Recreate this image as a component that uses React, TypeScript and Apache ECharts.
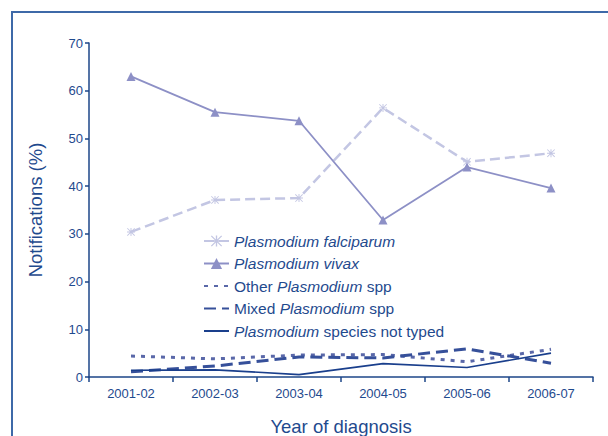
import React, { useEffect, useRef } from "react";
import * as echarts from "echarts";

const categories = ["2001-02", "2002-03", "2003-04", "2004-05", "2005-06", "2006-07"];
const falciparum = [30.4, 37.1, 37.5, 56.4, 45.1, 46.9];
const vivax = [63.0, 55.5, 53.7, 32.9, 44.0, 39.6];
const otherSpp = [4.4, 3.8, 4.6, 4.7, 3.2, 5.8];
const mixedSpp = [1.1, 2.3, 4.2, 4.0, 5.9, 2.9];
const notTyped = [1.4, 1.5, 0.5, 2.8, 2.0, 5.0];
const yTicks = { min: 0, max: 70, interval: 10 };

const legendLabels: Record<string, string> = {
  "Plasmodium falciparum": "{i|Plasmodium falciparum}",
  "Plasmodium vivax": "{i|Plasmodium vivax}",
  "Other Plasmodium spp": "Other {i|Plasmodium} spp",
  "Mixed Plasmodium spp": "Mixed {i|Plasmodium} spp",
  "Plasmodium species not typed": "{i|Plasmodium} species not typed",
};

const TEXT = "#1f4a8e";
const AXIS = "#1d4688";
const FONT = "Liberation Sans, Arial, sans-serif";
const ASTERISK =
  "path://M4.4,0h1.2v10h-1.2z M0,4.4h10v1.2h-10z M0.8,0L10,9.2L9.2,10L0,0.8z M9.2,0L10,0.8L0.8,10L0,9.2z";

export default function App() {
  const ref = useRef<HTMLDivElement>(null);
  useEffect(() => {
    if (!ref.current) return;
    const chart = echarts.init(ref.current, undefined, { renderer: "svg" });
    chart.setOption({
      animation: false,
      backgroundColor: "#ffffff",
      textStyle: { fontFamily: FONT },
      graphic: [
        {
          type: "rect",
          shape: { x: 12, y: 12, width: 700, height: 600 },
          style: { fill: "none", stroke: "#3e69a8", lineWidth: 2 },
          silent: true,
        },
      ],
      grid: { left: 89, right: 15, top: 43, bottom: 59, containLabel: false, outerBoundsMode: "none" },
      legend: {
        orient: "vertical",
        left: 203,
        top: 233,
        padding: 0,
        itemWidth: 25,
        itemHeight: 14,
        itemGap: 6.5,
        textStyle: {
          fontSize: 15.5,
          color: TEXT,
          fontFamily: FONT,
          rich: { i: { fontStyle: "italic", fontSize: 15.5, color: TEXT, fontFamily: FONT } },
        },
        formatter: (name: string) => legendLabels[name] || name,
        data: [
          { name: "Plasmodium falciparum" },
          { name: "Plasmodium vivax" },
          { name: "Other Plasmodium spp", itemStyle: { opacity: 0 } },
          { name: "Mixed Plasmodium spp", itemStyle: { opacity: 0 } },
          { name: "Plasmodium species not typed", itemStyle: { opacity: 0 } },
        ],
      },
      xAxis: {
        type: "category",
        data: categories,
        boundaryGap: true,
        name: "Year of diagnosis",
        nameLocation: "middle",
        nameGap: 40,
        nameTextStyle: { fontSize: 18.5, color: TEXT, fontFamily: FONT },
        axisLine: { lineStyle: { color: AXIS, width: 1.5 } },
        axisTick: { show: true, length: 5, lineStyle: { color: AXIS, width: 1.5 } },
        axisLabel: { fontSize: 13, color: TEXT, margin: 10, fontFamily: FONT },
      },
      yAxis: {
        type: "value",
        min: yTicks.min,
        max: yTicks.max,
        interval: yTicks.interval,
        name: "Notifications (%)",
        nameLocation: "middle",
        nameGap: 44,
        nameTextStyle: { fontSize: 18.5, color: TEXT, fontFamily: FONT },
        axisLine: { show: true, lineStyle: { color: AXIS, width: 1.5 } },
        axisTick: { show: true, length: 4, lineStyle: { color: AXIS, width: 1.5 } },
        axisLabel: { fontSize: 13, color: TEXT, margin: 6, fontFamily: FONT },
        splitLine: { show: false },
      },
      series: [
        {
          name: "Plasmodium falciparum",
          type: "line",
          data: falciparum,
          symbol: ASTERISK,
          symbolSize: 8,
          showSymbol: true,
          itemStyle: { color: "#c3c6e3" },
          lineStyle: { color: "#c3c6e3", width: 2.5, type: [10, 5] },
        },
        {
          name: "Plasmodium vivax",
          type: "line",
          data: vivax,
          symbol: "triangle",
          symbolSize: 9,
          itemStyle: { color: "#8d90c6" },
          lineStyle: { color: "#8d90c6", width: 1.8 },
        },
        {
          name: "Other Plasmodium spp",
          type: "line",
          data: otherSpp,
          symbol: "none",
          itemStyle: { color: "#5a68a9" },
          lineStyle: { color: "#5a68a9", width: 3, type: [4, 6] },
        },
        {
          name: "Mixed Plasmodium spp",
          type: "line",
          data: mixedSpp,
          symbol: "none",
          itemStyle: { color: "#36509a" },
          lineStyle: { color: "#36509a", width: 3, type: [12, 6] },
        },
        {
          name: "Plasmodium species not typed",
          type: "line",
          data: notTyped,
          symbol: "none",
          itemStyle: { color: "#1a3f8c" },
          lineStyle: { color: "#1a3f8c", width: 1.6 },
        },
      ],
    });
    return () => chart.dispose();
  }, []);
  return (
    <div
      ref={ref}
      style={{ position: "absolute", left: 0, top: 0, width: 608, height: 436, background: "#fff" }}
    />
  );
}
